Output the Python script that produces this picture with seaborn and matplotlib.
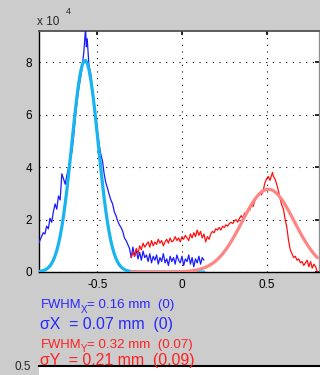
import numpy as np
import pandas as pd
import matplotlib
matplotlib.use("Agg")
import matplotlib.pyplot as plt
import seaborn as sns

# ---- measured X profile (counts / 1e4) ----
x_prof_pos = [
    -0.845, -0.84, -0.83, -0.82, -0.81, -0.80, -0.79, -0.78, -0.77, -0.76,
    -0.75, -0.74, -0.73, -0.72, -0.71, -0.70, -0.69, -0.68, -0.67, -0.66,
    -0.65, -0.64, -0.63, -0.62, -0.61, -0.60, -0.59, -0.58, -0.57, -0.565,
    -0.56, -0.55, -0.54, -0.53, -0.52, -0.51, -0.50, -0.49, -0.48, -0.47,
    -0.46, -0.45, -0.44, -0.43, -0.42, -0.41, -0.40, -0.39, -0.38, -0.37,
    -0.36, -0.35, -0.34, -0.33, -0.32, -0.31, -0.30, -0.29, -0.28, -0.27,
    -0.26, -0.25, -0.24, -0.23, -0.22, -0.21, -0.20, -0.19, -0.18, -0.17,
    -0.16, -0.15, -0.14, -0.13, -0.12, -0.11, -0.10, -0.09, -0.08, -0.07,
    -0.06, -0.05, -0.04, -0.03, -0.02, -0.01, 0.00, 0.01, 0.02, 0.03,
    0.04, 0.05, 0.06, 0.07, 0.08, 0.09, 0.10, 0.11, 0.12, 0.13,
]
x_prof_val = [
    1.10, 1.20, 1.35, 1.50, 1.45, 1.75, 1.65, 2.05, 1.90, 2.30,
    2.60, 2.40, 2.90, 2.75, 3.75, 3.55, 3.35, 3.70, 4.00, 4.35,
    4.60, 5.20, 5.90, 6.50, 7.00, 7.40, 7.80, 8.40, 9.30, 8.60,
    8.90, 7.90, 7.60, 7.00, 6.50, 5.95, 5.40, 4.90, 4.50, 4.25,
    3.75, 3.40, 3.20, 2.95, 2.75, 2.60, 2.30, 2.15, 1.95, 1.80,
    1.70, 1.55, 1.30, 1.20, 1.05, 0.90, 0.55, 0.95, 0.60, 0.85,
    0.50, 0.75, 0.45, 0.80, 0.55, 0.65, 0.40, 0.70, 0.35, 0.60,
    0.45, 0.65, 0.30, 0.55, 0.40, 0.70, 0.35, 0.50, 0.25, 0.60,
    0.40, 0.55, 0.30, 0.65, 0.45, 0.35, 0.60, 0.25, 0.50, 0.40,
    0.65, 0.30, 0.55, 0.20, 0.50, 0.35, 0.60, 0.30, 0.55, 0.45,
]

# ---- measured Y profile (counts / 1e4) ----
y_prof_pos = [
    -0.30, -0.29, -0.28, -0.27, -0.26, -0.25, -0.24, -0.23, -0.22, -0.21,
    -0.20, -0.19, -0.18, -0.17, -0.16, -0.15, -0.14, -0.13, -0.12, -0.11,
    -0.10, -0.09, -0.08, -0.07, -0.06, -0.05, -0.04, -0.03, -0.02, -0.01,
    0.00, 0.01, 0.02, 0.03, 0.04, 0.05, 0.06, 0.07, 0.08, 0.09,
    0.10, 0.11, 0.12, 0.13, 0.14, 0.15, 0.16, 0.17, 0.18, 0.19,
    0.20, 0.21, 0.22, 0.23, 0.24, 0.25, 0.26, 0.27, 0.28, 0.29,
    0.30, 0.31, 0.32, 0.33, 0.34, 0.35, 0.36, 0.37, 0.38, 0.39,
    0.40, 0.41, 0.42, 0.43, 0.44, 0.45, 0.46, 0.47, 0.48, 0.49,
    0.50, 0.51, 0.52, 0.53, 0.535, 0.54, 0.55, 0.56, 0.57, 0.58,
    0.59, 0.60, 0.61, 0.62, 0.63, 0.64, 0.65, 0.66, 0.67, 0.68,
    0.69, 0.70, 0.71, 0.72, 0.73, 0.74, 0.75, 0.76, 0.77, 0.78,
    0.79, 0.80,
]
y_prof_val = [
    0.55, 0.75, 0.60, 0.90, 0.70, 1.00, 0.85, 1.10, 0.95, 1.05,
    1.15, 0.95, 1.20, 1.00, 1.15, 1.05, 1.25, 1.10, 1.20, 1.00,
    1.15, 1.25, 1.10, 1.30, 1.15, 1.20, 1.35, 1.20, 1.30, 1.15,
    1.35, 1.25, 1.40, 1.30, 1.20, 1.45, 1.30, 1.50, 1.35, 1.60,
    1.40, 1.55, 1.30, 1.45, 1.15, 1.35, 1.25, 1.45, 1.55, 1.50,
    1.65, 1.60, 1.70, 1.60, 1.75, 1.70, 1.80, 1.75, 1.85, 1.90,
    1.85, 1.95, 2.00, 1.90, 2.05, 2.15, 2.05, 2.25, 2.20, 2.40,
    2.35, 2.55, 2.50, 2.70, 2.85, 2.95, 3.00, 2.95, 3.10, 3.40,
    3.55, 3.65, 3.50, 3.70, 3.80, 3.65, 3.55, 3.35, 3.10, 2.80,
    2.55, 2.40, 2.00, 1.70, 1.20, 0.85, 0.70, 0.55, 0.60, 0.45,
    0.50, 0.35, 0.40, 0.25, 0.35, 0.45, 0.20, 0.40, 0.15, 0.30,
    0.20, 0.00,
]

# ---- gaussian fit parameters: centre, peak (1e4), sigma ----
fit_x = [-0.573, 8.08, 0.078]
fit_y = [0.510, 3.16, 0.155]

x_ticks = [-0.5, 0, 0.5]
x_ticklabels = ["-0.5", "0", "0.5"]
y_ticks = [0, 2, 4, 6, 8]
y_ticklabels = ["0", "2", "4", "6", "8"]

blue_lines = ["FWHM", "X", "= 0.16 mm  (0)", "σX  = 0.07 mm  (0)"]
red_lines = ["FWHM", "Y", "= 0.32 mm  (0.07)", "σY  = 0.21 mm  (0.09)"]

sns.set_style("white")
plt.rcParams["font.family"] = ["Liberation Sans", "DejaVu Sans"]

W, H = 320, 375
fig = plt.figure(figsize=(W / 100, H / 100), dpi=100, facecolor="#cccccc")


def fx(px):
    return px / W


def fy(py):
    return 1 - py / H


ax = fig.add_axes([fx(39), fy(272), fx(319) - fx(39), fy(31) - fy(272)])
ax.set_facecolor("white")

scale = 1e4


def gauss(xs, p):
    c, a, s = p
    xs = np.asarray(xs)
    return a * scale * np.exp(-((xs - c) ** 2) / (2 * s ** 2))


dfx = pd.DataFrame({"pos": x_prof_pos, "val": np.array(x_prof_val) * scale})
dfy = pd.DataFrame({"pos": y_prof_pos, "val": np.array(y_prof_val) * scale})
fx_df = pd.DataFrame({"pos": x_prof_pos, "val": gauss(x_prof_pos, fit_x)})
fy_df = pd.DataFrame({"pos": y_prof_pos, "val": gauss(y_prof_pos, fit_y)})

sns.lineplot(data=dfx, x="pos", y="val", ax=ax, color="#1a1aff", lw=0.9,
             estimator=None, sort=False, zorder=3)
sns.lineplot(data=fx_df, x="pos", y="val", ax=ax, color="#18b4f0", lw=2.3,
             estimator=None, sort=False, zorder=4)
sns.lineplot(data=dfy, x="pos", y="val", ax=ax, color="#ff1010", lw=0.9,
             estimator=None, sort=False, zorder=3)
sns.lineplot(data=fy_df, x="pos", y="val", ax=ax, color="#ff8585", lw=2.3,
             estimator=None, sort=False, zorder=4)

ax.set_xlim(-0.845, 0.81)
ax.set_ylim(0, 9.2e4)
ax.set_xticks(x_ticks)
ax.set_xticklabels(x_ticklabels)
ax.set_yticks([v * scale for v in y_ticks])
ax.set_yticklabels(y_ticklabels)
ax.set_xlabel("")
ax.set_ylabel("")
ax.tick_params(direction="in", length=3, width=1.2, labelsize=8.5,
               top=True, right=True, colors="black", pad=5)
ax.grid(True, color="black", linestyle=(0, (1, 5)), lw=0.8)
for side in ["left", "bottom"]:
    ax.spines[side].set_color("black")
    ax.spines[side].set_linewidth(1.0)
ax.spines["top"].set_color("#505050")
ax.spines["top"].set_linewidth(1.3)
ax.spines["right"].set_color("#909090")
ax.spines["right"].set_linewidth(1.0)

# exponent marker
fig.text(fx(37), fy(25), "x 10", fontsize=8.5, va="baseline", ha="left")
fig.text(fx(66), fy(14), "4", fontsize=6.5, va="baseline", ha="left")

# fit results
blue = "#2828ff"
red = "#ff2020"
fig.text(fx(41), fy(308), blue_lines[0], fontsize=9.4, color=blue, va="baseline")
fig.text(fx(81), fy(313), blue_lines[1], fontsize=7, color=blue, va="baseline")
fig.text(fx(87), fy(308), blue_lines[2], fontsize=9.6, color=blue, va="baseline")
fig.text(fx(40), fy(329), blue_lines[3], fontsize=11.4, color=blue, va="baseline")
fig.text(fx(41), fy(348), red_lines[0], fontsize=9.4, color=red, va="baseline")
fig.text(fx(81), fy(352), red_lines[1], fontsize=7, color=red, va="baseline")
fig.text(fx(87), fy(348), red_lines[2], fontsize=9.6, color=red, va="baseline")
fig.text(fx(40), fy(365), red_lines[3], fontsize=11.4, color=red, va="baseline")

# lower panel, mostly below the figure edge
ax2 = fig.add_axes([fx(39), 0, fx(320) - fx(39), fy(366)])
ax2.set_facecolor("white")
ax2.set_xlim(-0.845, 0.81)
ax2.set_ylim(0.45, 0.5)
ax2.set_xticks([])
ax2.set_yticks([0.5])
ax2.set_yticklabels(["0.5"])
ax2.tick_params(direction="in", length=0, labelsize=8.5, pad=6)
ax2.spines["top"].set_color("black")
ax2.spines["top"].set_linewidth(1.5)
for side in ["left", "right", "bottom"]:
    ax2.spines[side].set_visible(False)
ax2.grid(False)

fig.savefig("out.png", dpi=100, facecolor=fig.get_facecolor())
